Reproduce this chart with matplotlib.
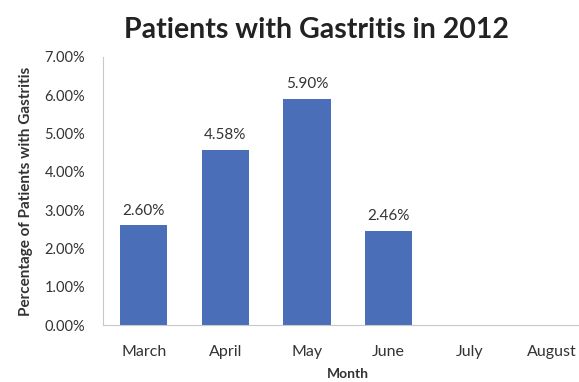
import matplotlib
matplotlib.use("Agg")
import matplotlib.pyplot as plt
from matplotlib.ticker import FuncFormatter

months = ["March", "April", "May", "June", "July", "August"]
values = [2.60, 4.58, 5.90, 2.46, None, None]
yticks = [0, 1, 2, 3, 4, 5, 6, 7]

plt.rcParams['font.family'] = ['Lato', 'DejaVu Sans']

fig = plt.figure(figsize=(5.79, 3.82), dpi=100)
ax = fig.add_axes([0.178, 0.149, 0.845, 0.702])

xs = list(range(len(months)))
bx = [x for x, v in zip(xs, values) if v is not None]
bv = [v for v in values if v is not None]
bars = ax.bar(bx, bv, width=0.58, color="#4A6EB8", zorder=2)
for x, v in zip(bx, bv):
    ax.text(x, v + 0.2, f"{v:.2f}%", ha="center", va="bottom", fontsize=11, color="#333333")

ax.set_xlim(-0.5, len(months) - 0.5)
ax.set_ylim(0, 7)
ax.set_yticks(yticks)
ax.yaxis.set_major_formatter(FuncFormatter(lambda v, p: f"{v:.2f}%"))
ax.set_xticks(xs)
ax.set_xticklabels(months)
ax.tick_params(axis="both", length=0, colors="#333333")
ax.tick_params(axis="x", pad=14, labelsize=11.5)
ax.tick_params(axis="y", pad=13, labelsize=10.5)
for s in ["top", "right"]:
    ax.spines[s].set_visible(False)
for s in ["left", "bottom"]:
    ax.spines[s].set_color("#C8C8C8")
    ax.spines[s].set_linewidth(0.8)

ax.set_xlabel("Month", fontsize=10, fontweight="bold", color="#333333", labelpad=7)
ax.set_ylabel("Percentage of Patients with Gastritis", fontsize=11, fontweight="bold", color="#333333", labelpad=8)

fig.text(0.546, 0.922, "Patients with Gastritis in 2012", ha="center", va="center",
         fontsize=20.5, fontweight="bold", color="#222222")

fig.savefig("out.png", dpi=100)
